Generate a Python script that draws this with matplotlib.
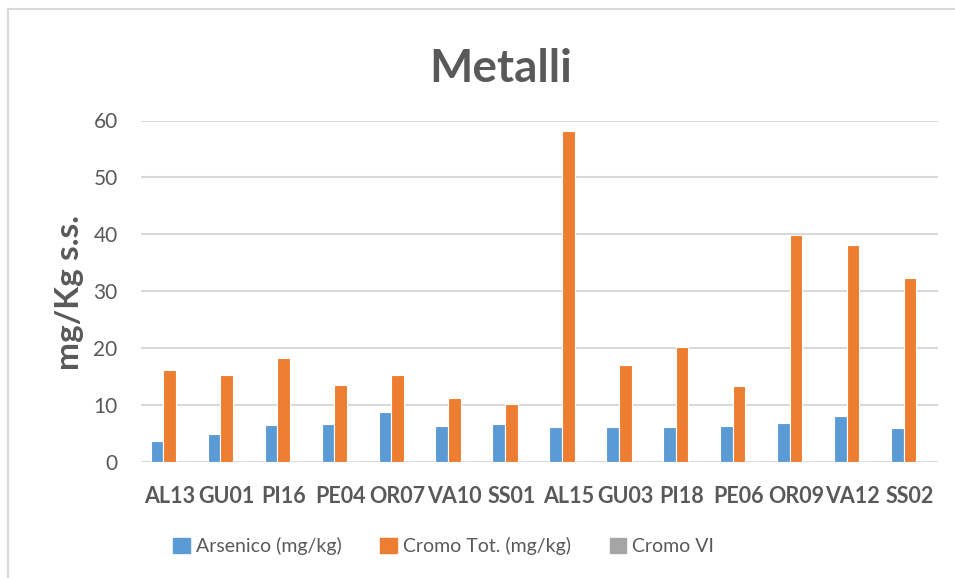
import matplotlib
matplotlib.use("Agg")
import matplotlib.pyplot as plt
from matplotlib.patches import Rectangle
import numpy as np

plt.rcParams['font.family'] = ['Lato', 'DejaVu Sans']

stations = ["AL13", "GU01", "PI16", "PE04", "OR07", "VA10", "SS01",
            "AL15", "GU03", "PI18", "PE06", "OR09", "VA12", "SS02"]
arsenico = [3.7, 4.9, 6.45, 6.6, 8.7, 6.3, 6.7,
            6.2, 6.2, 6.1, 6.3, 6.9, 8.0, 6.0]
cromo_tot = [16.2, 15.3, 18.2, 13.5, 15.2, 11.3, 10.2,
             58.2, 17.0, 20.2, 13.4, 39.8, 38.1, 32.4]
cromo_vi = [0] * 14
series_names = ["Arsenico (mg/kg)", "Cromo Tot. (mg/kg)", "Cromo VI"]
y_ticks = [0, 10, 20, 30, 40, 50, 60]

colors = ["#5B9BD5", "#ED7D31", "#A5A5A5"]
text_col = "#595959"
grid_col = "#D9D9D9"

W, H = 955, 578
fig = plt.figure(figsize=(W / 100, H / 100), dpi=100)

# chart frame (left and top edges visible)
fig.add_artist(plt.Line2D([7.5 / W, 7.5 / W], [0, 1 - 8.5 / H], color=grid_col,
                          lw=1.5, transform=fig.transFigure))
fig.add_artist(plt.Line2D([7.5 / W, 1], [1 - 8.5 / H, 1 - 8.5 / H], color=grid_col,
                          lw=1.5, transform=fig.transFigure))

ax = fig.add_axes([141.3 / W, 1 - 462 / H, (938.3 - 141.3) / W, (462 - 120.5) / H])

x = np.arange(len(stations))
slot = 1 / 4.5
for i, (vals, c, name) in enumerate(zip([arsenico, cromo_tot, cromo_vi], colors, series_names)):
    ax.bar(x + (i - 1) * slot, vals, width=slot, color=c, edgecolor="white",
           linewidth=0.8, label=name, zorder=3)

ax.set_xlim(-0.5, len(stations) - 0.5)
ax.set_ylim(0, 60)
ax.set_yticks(y_ticks)
ax.yaxis.grid(True, color=grid_col, lw=1.5, zorder=0)
ax.set_axisbelow(True)
for s in ax.spines.values():
    s.set_visible(False)
ax.axhline(0, color=grid_col, lw=1.5, zorder=2)
ax.tick_params(axis='both', length=0)
ax.tick_params(axis='y', pad=17, labelsize=15, labelcolor=text_col)
ax.set_xticks(x)
ax.set_xticklabels(stations, fontsize=15.5, fontweight='bold', color=text_col)
ax.tick_params(axis='x', pad=17)

fig.text(501 / W, 1 - 69 / H, "Metalli", ha='center', va='center',
         fontsize=33, fontweight='bold', color=text_col)
fig.text(69 / W, 1 - 293 / H, "mg/Kg s.s.", ha='center', va='center',
         rotation=90, fontsize=24, fontweight='bold', color=text_col)

handles = [Rectangle((0, 0), 1, 1, color=c) for c in colors]
fig.legend(handles, series_names, loc='center', bbox_to_anchor=(443.5 / W, 1 - 546 / H),
           ncol=3, frameon=False, fontsize=14, labelcolor=text_col,
           handlelength=0.85, handleheight=0.85, handletextpad=0.3, columnspacing=2.0)

fig.savefig("out.png", dpi=100)
